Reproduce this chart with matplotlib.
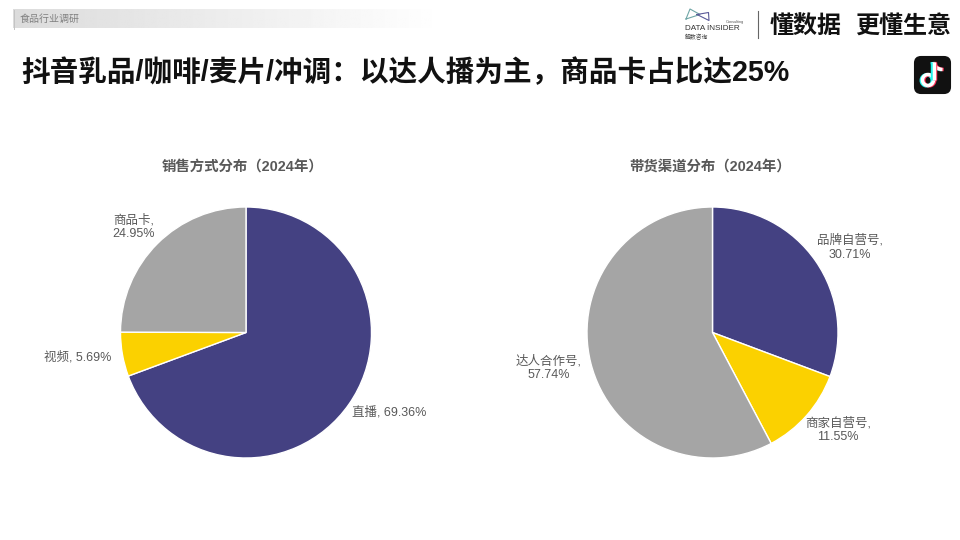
# -*- coding: utf-8 -*-
import numpy as np
import matplotlib
matplotlib.use('Agg')
import matplotlib.pyplot as plt
from matplotlib.patches import FancyBboxPatch, Arc

# 数字和字母用 Liberation Sans，中文回退到 Noto
plt.rcParams['font.family'] = ['Liberation Sans', 'Noto Sans CJK SC', 'DejaVu Sans']

# 数据
sale_labels = ['直播', '视频', '商品卡']
sale_values = [69.36, 5.69, 24.95]
channel_labels = ['品牌自营号', '商家自营号', '达人合作号']
channel_values = [30.71, 11.55, 57.74]
pie_colors = ['#444182', '#FBD100', '#A5A5A5']

W, H = 960, 540
fig = plt.figure(figsize=(9.6, 5.4), dpi=100, facecolor='white')

# 背景层，用像素坐标
bg = fig.add_axes([0, 0, 1, 1])
bg.set_xlim(0, W)
bg.set_ylim(H, 0)
bg.axis('off')


def draw_pie(cx, cy, r, values):
    ax = fig.add_axes([(cx - r) / W, 1 - (cy + r) / H, 2 * r / W, 2 * r / H])
    ax.pie(values, colors=pie_colors, startangle=90, counterclock=False,
           wedgeprops=dict(edgecolor='white', linewidth=1.0))
    ax.set_xlim(-1.0, 1.0)
    ax.set_ylim(-1.0, 1.0)
    ax.set_aspect('equal')


draw_pie(246, 332.5, 125.5, sale_values)
draw_pie(712.5, 332.5, 125.5, channel_values)

# 顶部灰色渐变条
grad = np.linspace(0.86, 1.0, 256).reshape(1, -1)
bg.imshow(grad, extent=(13, 445, 28.5, 9.5), cmap='gray', vmin=0, vmax=1,
          aspect='auto', zorder=1)
bg.set_xlim(0, W)
bg.set_ylim(H, 0)
bg.plot([13.5, 13.5], [9.5, 28.5], color='#c4c4c4', lw=0.7, zorder=2)
bg.text(20, 19, '食品行业调研', fontsize=7.2, color='#808080', va='center', zorder=2)

# 主标题
bg.text(21, 72.5, '抖音乳品/咖啡/麦片/冲调：以达人播为主，商品卡占比达25%',
        fontsize=20.6, fontweight='bold', color='#111111', va='center')

# 右上角 logo
bg.plot([686, 690, 700, 686], [19, 9, 14.5, 19], color='#6fa6a6', lw=0.8)
bg.plot([697, 708.5, 709, 697], [14.5, 12.5, 20.5, 14.5], color='#5b5a99', lw=0.8)
bg.text(685, 29, 'DATA İNSIDER', fontsize=5.9, color='#333333', va='center')
bg.text(726, 21.5, 'Consulting', fontsize=2.8, color='#555555', va='center')
bg.text(685, 37, '解数咨询', fontsize=4.2, color='#444444', va='center')
bg.plot([757.5, 757.5], [11, 38], color='#666666', lw=0.8)
bg.text(770, 26, '懂数据', fontsize=17.3, fontweight='bold', color='#111111', va='center')
bg.text(855, 26, '更懂生意', fontsize=17.3, fontweight='bold', color='#111111', va='center')

# 抖音图标
bg.add_patch(FancyBboxPatch((915, 57), 35, 36, boxstyle='round,pad=0,rounding_size=6',
                            facecolor='#111111', edgecolor='#111111', linewidth=1.5))
for dx, col in [(-1.2, '#25F4EE'), (1.2, '#FE2C55'), (0, 'white')]:
    bg.add_patch(Arc((928 + dx, 80 + abs(dx) * 0.3), 11, 11, theta1=-270, theta2=90,
                     color=col, lw=2.5))
    bg.plot([933.5 + dx, 933.5 + dx], [80, 62], color=col, lw=2.5, solid_capstyle='butt')
    bg.add_patch(Arc((942.5 + dx, 62), 18, 15, theta1=90, theta2=180, color=col, lw=2.5))

# 图表标题
title_color = '#595959'
bg.text(243, 167, '销售方式分布（2024年）', fontsize=10.4, fontweight='bold',
        color=title_color, ha='center', va='center')
bg.text(710, 167, '带货渠道分布（2024年）', fontsize=10.4, fontweight='bold',
        color=title_color, ha='center', va='center')

# 数据标签
label_color = '#595959'
label_size = 9
bg.text(389, 412.5, f'{sale_labels[0]}, {sale_values[0]:.2f}%', fontsize=label_size,
        color=label_color, ha='center', va='center')
bg.text(78, 357.5, f'{sale_labels[1]}, {sale_values[1]:.2f}%', fontsize=label_size,
        color=label_color, ha='center', va='center')
bg.text(134, 227, f'{sale_labels[2]},\n{sale_values[2]:.2f}%', fontsize=label_size,
        color=label_color, ha='center', va='center', linespacing=1.25)
bg.text(850, 247.5, f'{channel_labels[0]},\n{channel_values[0]:.2f}%', fontsize=label_size,
        color=label_color, ha='center', va='center', linespacing=1.25)
bg.text(838, 430, f'{channel_labels[1]},\n{channel_values[1]:.2f}%', fontsize=label_size,
        color=label_color, ha='center', va='center', linespacing=1.25)
bg.text(549, 368, f'{channel_labels[2]},\n{channel_values[2]:.2f}%', fontsize=label_size,
        color=label_color, ha='center', va='center', linespacing=1.25)

fig.savefig('out.png', dpi=100)
